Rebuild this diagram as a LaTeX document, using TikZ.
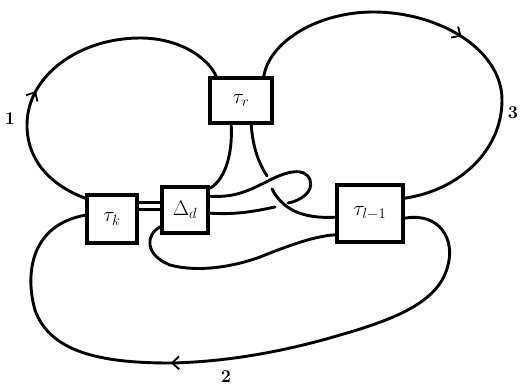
\RequirePackage{fix-cm}
\documentclass[tikz,border=0pt]{standalone}
\usetikzlibrary{arrows.meta,decorations.markings}
\begin{document}
\begin{tikzpicture}[x=1pt,y=-1pt,line width=2.9pt,line cap=round,
 box/.style={draw,line width=3.6pt,inner sep=0pt,font=\fontsize{21}{24}\selectfont},
 num/.style={font=\fontsize{18}{20}\selectfont\bfseries},
 midarrow/.style={postaction={decorate,decoration={markings,
   mark=at position #1 with {\arrow{Straight Barb[length=7pt,width=13pt,line width=1.8pt]}}}}}]
 \useasboundingbox (0,0) rectangle (520,386);
 \node[box,minimum width=62pt,minimum height=45pt] (tr) at (241,100.5) {$\tau_r$};
 \node[box,minimum width=50pt,minimum height=48pt] (tk) at (112,219) {$\tau_k$};
 \node[box,minimum width=46pt,minimum height=46pt] (dd) at (185,210) {$\Delta_d$};
 \node[box,minimum width=66pt,minimum height=57pt] (tl) at (370,213.5) {$\tau_{l-1}$};
 \node[num] (n1) at (10,119) {1};
 \node[num] (n2) at (226,377) {2};
 \node[num] (n3) at (513,113) {3};
 % ends at the crossings
 \coordinate (u1) at (267,176);
 \coordinate (u2) at (272,189);
 \coordinate (v1) at (288,203);
 \coordinate (v2) at (275,207);
 % loop 1
 \draw[midarrow=0.39] ([yshift=-5pt]tk.north west) .. controls (50,185) and (27,160) .. (27,125)
   .. controls (27,75) and (80,38) .. (140,38) .. controls (180,38) and (208,58) .. ([xshift=8pt]tr.north west);
 % loop 3
 \draw[midarrow=0.5] ([xshift=-10pt]tr.north east) .. controls (270,40) and (320,12) .. (373,12)
   .. controls (440,12) and (502,50) .. (502,100) .. controls (502,150) and (460,190) .. ([yshift=-15pt]tl.north east);
 % loop 2
 \draw[midarrow=0.58] ([yshift=-35pt]tl.north east) .. controls (440,212) and (455,240) .. (448,265)
   .. controls (440,300) and (400,318) .. (340,335) .. controls (290,350) and (230,362) .. (170,363)
   .. controls (100,363) and (50,352) .. (35,310) .. controls (25,275) and (30,225) .. ([yshift=-22pt]tk.north west);
 % double strand
 \draw ([yshift=-9pt]tk.north east) -- ([yshift=-17pt]dd.north west);
 \draw ([yshift=-16pt]tk.north east) -- ([yshift=-24pt]dd.north west);
 % middle strands
 \draw ([yshift=-3pt]dd.north east) .. controls (222,182) and (233,160) .. ([xshift=23pt]tr.south west);
 \draw ([xshift=43pt]tr.south west) .. controls (253,150) and (260,165) .. (u1);
 \draw (u2) .. controls (282,208) and (300,219) .. ([yshift=-34pt]tl.north west);
 \draw ([yshift=-11pt]dd.north east) .. controls (235,198) and (250,190) .. (268,181)
   .. controls (285,172) and (305,166) .. (310,180) .. controls (314,192) and (300,201) .. (v1);
 \draw (v2) .. controls (260,210) and (240,215) .. ([yshift=-28pt]dd.north east);
 \draw ([yshift=8pt]dd.south west) .. controls (145,235) and (145,255) .. (170,265)
   .. controls (195,272) and (230,268) .. (260,257) .. controls (290,245) and (315,236) .. ([yshift=9pt]tl.south west);
\end{tikzpicture}
\end{document}
